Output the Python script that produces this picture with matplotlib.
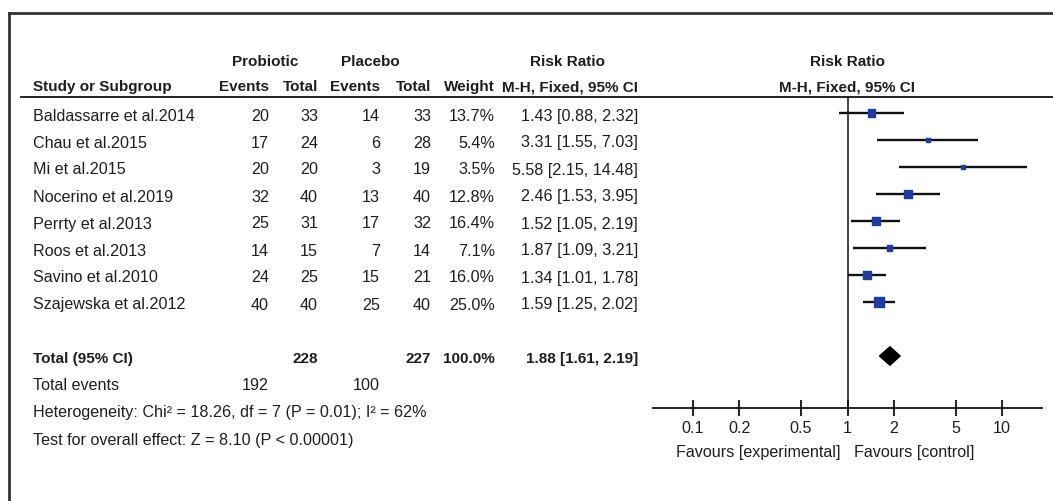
import matplotlib
matplotlib.use('Agg')
import matplotlib.pyplot as plt
from matplotlib import font_manager

names = {f.name for f in font_manager.fontManager.ttflist}
if 'Liberation Sans Narrow' in names:
    fam, fs, fsb = 'Liberation Sans Narrow', 13, 13
else:
    fam, fs, fsb = 'Liberation Sans', 11.6, 11.0
plt.rcParams['font.family'] = [fam, 'DejaVu Sans']

# data
studies = ['Baldassarre et al.2014', 'Chau et al.2015', 'Mi et al.2015', 'Nocerino et al.2019',
           'Perrty et al.2013', 'Roos et al.2013', 'Savino et al.2010', 'Szajewska et al.2012']
prob_events = [20, 17, 20, 32, 25, 14, 24, 40]
prob_total = [33, 24, 20, 40, 31, 15, 25, 40]
plac_events = [14, 6, 3, 13, 17, 7, 15, 25]
plac_total = [33, 28, 19, 40, 32, 14, 21, 40]
weights = [13.7, 5.4, 3.5, 12.8, 16.4, 7.1, 16.0, 25.0]
rr = [1.43, 3.31, 5.58, 2.46, 1.52, 1.87, 1.34, 1.59]
rr_lo = [0.88, 1.55, 2.15, 1.53, 1.05, 1.09, 1.01, 1.25]
rr_hi = [2.32, 7.03, 14.48, 3.95, 2.19, 3.21, 1.78, 2.02]
tot_prob, tot_plac = 228, 227
tot_weight = 100.0
tot_ev_prob, tot_ev_plac = 192, 100
tot_rr, tot_lo, tot_hi = 1.88, 1.61, 2.19
ticks = [0.1, 0.2, 0.5, 1, 2, 5, 10]

W, H = 1053, 501
y0, dy = 113, 27   # pixel y of first row, row spacing
tc = '#1e1e1e'

fig = plt.figure(figsize=(W / 100, H / 100), dpi=100)
fig.patch.set_facecolor('white')

# table layer in pixel coords
tb = fig.add_axes([0, 0, 1, 1])
tb.set_xlim(0, W)
tb.set_ylim(H, 0)
tb.axis('off')

def row(k):
    return y0 + dy * k

def t(x, y, s, ha='right', bold=False):
    tb.text(x, y, s, ha=ha, va='center', fontsize=fsb if bold else fs, color=tc,
            fontweight='bold' if bold else 'normal')

# frame (top and left only, image is cropped)
tb.plot([9, W], [13, 13], color='#333333', lw=2)
tb.plot([9, 9], [13, H], color='#333333', lw=2)

# headers
h1, h2 = 62, 87
t(265, h1, 'Probiotic', ha='center', bold=True)
t(370, h1, 'Placebo', ha='center', bold=True)
t(568, h1, 'Risk Ratio', ha='center', bold=True)
t(847, h1, 'Risk Ratio', ha='center', bold=True)
t(33, h2, 'Study or Subgroup', ha='left', bold=True)
t(269, h2, 'Events', bold=True)
t(318, h2, 'Total', bold=True)
t(380, h2, 'Events', bold=True)
t(431, h2, 'Total', bold=True)
t(495, h2, 'Weight', bold=True)
t(638, h2, 'M-H, Fixed, 95% CI', bold=True)
t(847, h2, 'M-H, Fixed, 95% CI', ha='center', bold=True)
tb.plot([21, W], [97, 97], color='#111111', lw=1.3)

for k, s in enumerate(studies):
    y = row(k) + 3
    t(33, y, s, ha='left')
    t(269, y, str(prob_events[k]))
    t(318, y, str(prob_total[k]))
    t(380, y, str(plac_events[k]))
    t(431, y, str(plac_total[k]))
    t(495, y, f'{weights[k]:.1f}%')
    t(638, y, f'{rr[k]:.2f} [{rr_lo[k]:.2f}, {rr_hi[k]:.2f}]')

y = row(9) + 3
t(33, y, 'Total (95% CI)', ha='left', bold=True)
t(318, y, str(tot_prob), bold=True)
t(431, y, str(tot_plac), bold=True)
t(495, y, f'{tot_weight:.1f}%', bold=True)
t(638, y, f'{tot_rr:.2f} [{tot_lo:.2f}, {tot_hi:.2f}]', bold=True)
y = row(10) + 3
t(33, y, 'Total events', ha='left')
t(269, y, str(tot_ev_prob))
t(380, y, str(tot_ev_plac))
t(33, row(11) + 3, 'Heterogeneity: Chi\u00b2 = 18.26, df = 7 (P = 0.01); I\u00b2 = 62%', ha='left')
t(33, row(12) + 3, 'Test for overall effect: Z = 8.10 (P < 0.00001)', ha='left')

t(840, 453, 'Favours [experimental]')
t(854, 453, 'Favours [control]', ha='left')

# forest plot axes: x from 653 to 1042 px, y from 97 to 408 px
ax_top, ax_bot = 97, 408
fa = fig.add_axes([653 / W, 1 - ax_bot / H, (1042 - 653) / W, (ax_bot - ax_top) / H])
fa.patch.set_alpha(0)
fa.set_xscale('log')
fa.set_xlim(0.0552, 18.1)
fa.set_ylim((ax_bot - y0) / dy, (ax_top - y0) / dy)
for sp in ['top', 'right', 'left']:
    fa.spines[sp].set_visible(False)
fa.spines['bottom'].set_linewidth(1.3)
fa.spines['bottom'].set_color('#111111')
fa.set_yticks([])
fa.set_xticks(ticks)
fa.set_xticklabels([f'{v:g}' for v in ticks])
fa.minorticks_off()
fa.tick_params(axis='x', direction='inout', length=11, width=1.3, pad=4,
               labelsize=fs, labelcolor=tc, color='#111111')
fa.axvline(1, color='#111111', lw=1.1)

ks = list(range(len(studies)))
fa.hlines(ks, rr_lo, rr_hi, color='#111111', lw=1.7, zorder=2)
fa.scatter(rr, ks, s=[2.1 * w for w in weights], marker='s', color='#1f3d9e', zorder=3)
kt = 9
hd = 0.34
fa.fill([tot_lo, tot_rr, tot_hi, tot_rr], [kt, kt - hd, kt, kt + hd], color='black', zorder=3)

plt.savefig('out.png', dpi=100, facecolor='white')
